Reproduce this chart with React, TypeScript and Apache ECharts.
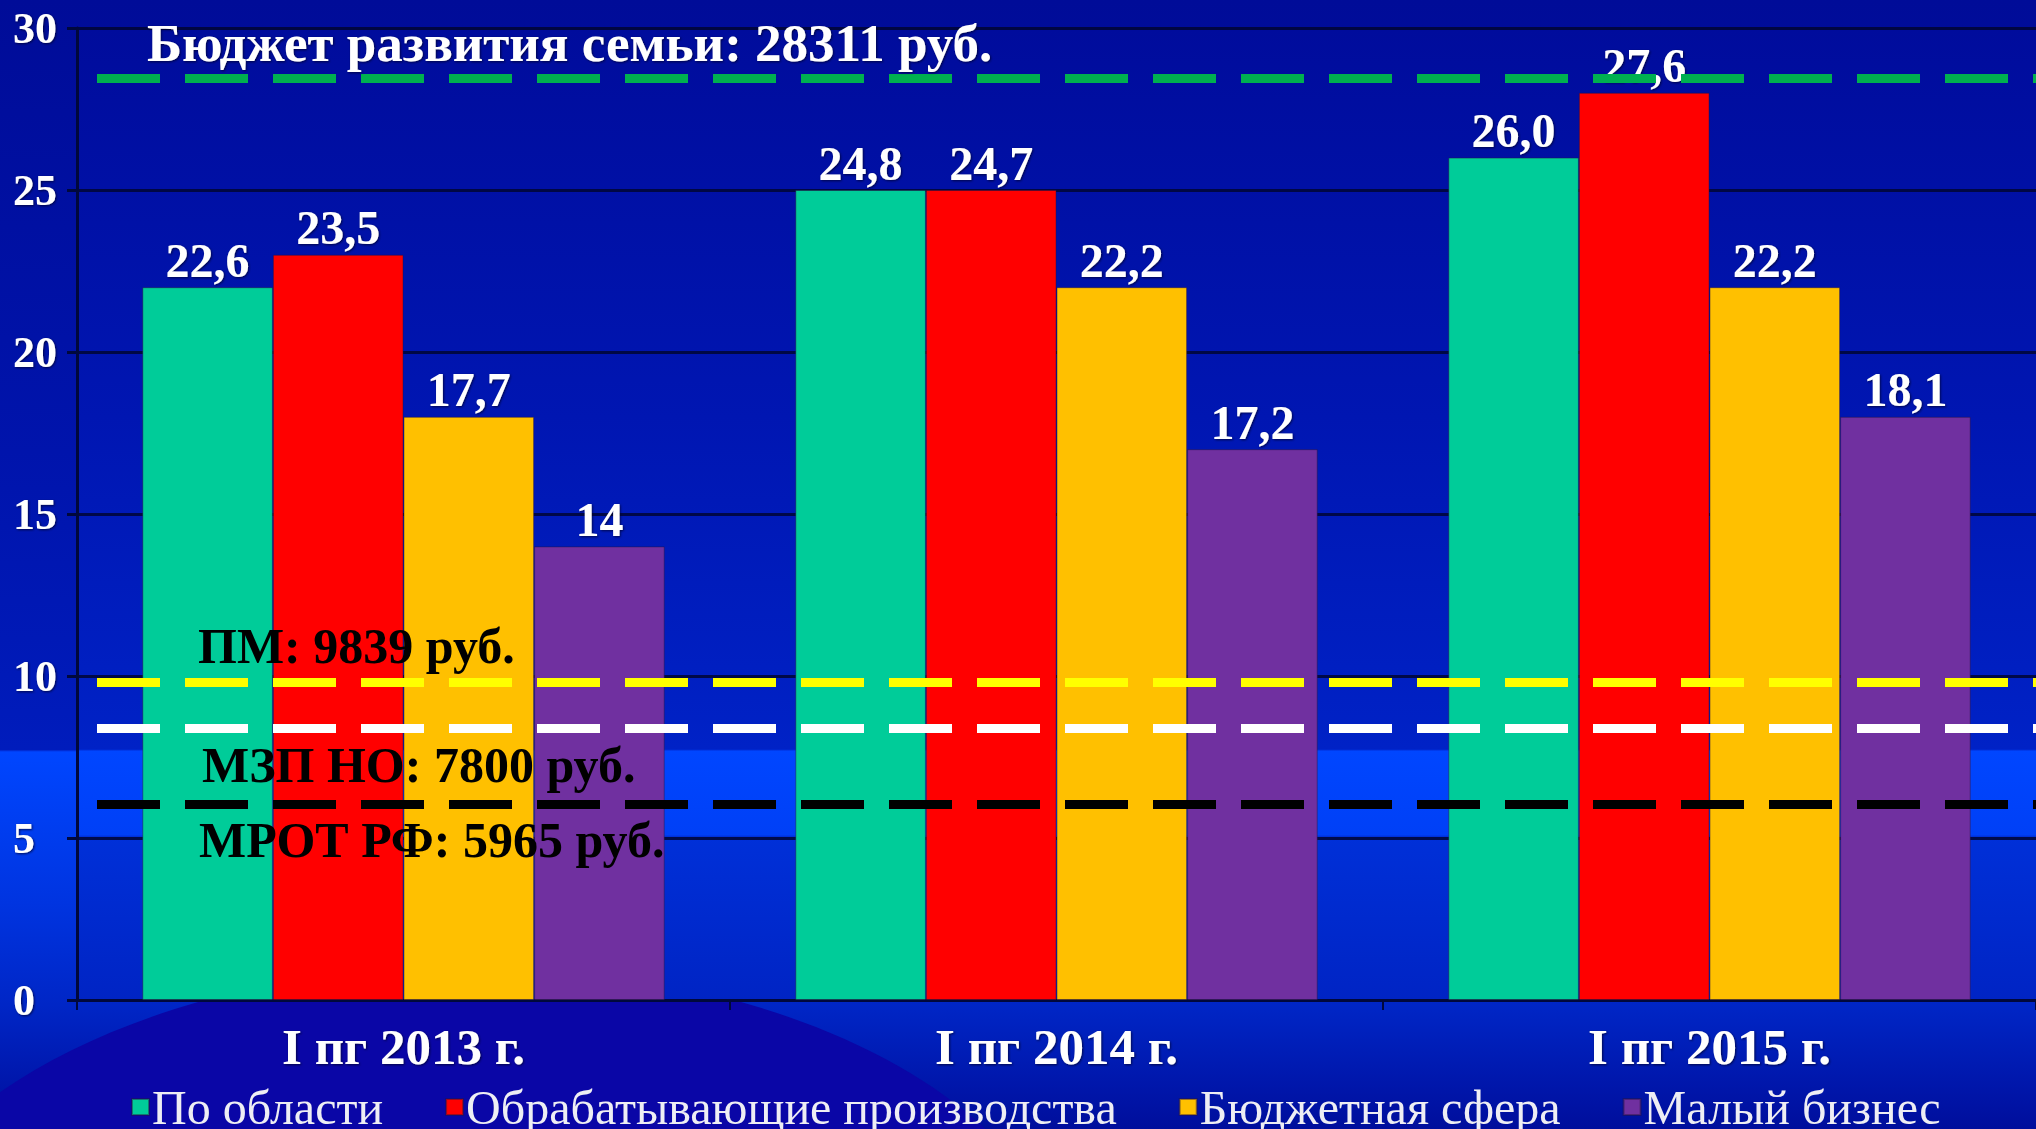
import React, { useEffect, useRef } from 'react';
import * as echarts from 'echarts';

const categories = ['I пг 2013 г.', 'I пг 2014 г.', 'I пг 2015 г.'];
const seriesNames = ['По области', 'Обрабатывающие производства', 'Бюджетная сфера', 'Малый бизнес'];

// bar heights as drawn in the picture
const regionValues = [22, 25, 26];
const manufacturingValues = [23, 25, 28];
const publicSectorValues = [18, 22, 22];
const smallBusinessValues = [14, 17, 18];

// value labels as printed above the bars
const regionLabels = ['22,6', '24,8', '26,0'];
const manufacturingLabels = ['23,5', '24,7', '27,6'];
const publicSectorLabels = ['17,7', '22,2', '22,2'];
const smallBusinessLabels = ['14', '17,2', '18,1'];

// y axis
const yMin = 0;
const yMax = 30;
const yInterval = 5;

// reference levels (thousand rubles)
const familyBudgetLevel = 28.45;
const subsistenceLevel = 9.8;
const regionalWageLevel = 8.4;
const federalWageLevel = 6.05;

const familyBudgetText = 'Бюджет развития семьи: 28311 руб.';
const subsistenceText = 'ПМ: 9839 руб.';
const regionalWageText = 'МЗП НО: 7800 руб.';
const federalWageText = 'МРОТ РФ: 5965 руб.';

const colors = ['#00CC99', '#FF0000', '#FFC000', '#7030A0'];

export default function App() {
  const ref = useRef<HTMLDivElement>(null);
  useEffect(() => {
    if (!ref.current) return;
    const chart = echarts.init(ref.current, null, { renderer: 'svg' });
    const FONT = '"Liberation Serif", "Times New Roman", serif';
    const shadow = {
      textShadowColor: 'rgba(0,0,40,0.75)',
      textShadowBlur: 2,
      textShadowOffsetX: 1,
      textShadowOffsetY: 1,
    };
    const G = { left: 77, top: 28, width: 1966, height: 972 };

    const mkBar = (name: string, values: number[], labels: string[], color: string, extra: any = {}) => ({
      type: 'bar',
      name,
      data: values,
      barGap: '0%',
      barCategoryGap: '20%',
      itemStyle: { color, borderColor: 'rgba(40,20,60,0.45)', borderWidth: 1 },
      label: {
        show: true,
        position: 'top',
        distance: 3,
        formatter: (p: any) => labels[p.dataIndex],
        color: '#ffffff',
        fontFamily: FONT,
        fontWeight: 'bold',
        fontSize: 48,
        ...shadow,
      },
      emphasis: { disabled: true },
      ...extra,
    });

    const lineLabel = (text: string, position: string, dist: number[], size: number, color: string, sh = false) => ({
      show: true,
      formatter: text,
      position,
      distance: dist,
      fontFamily: FONT,
      fontWeight: 'bold',
      fontSize: size,
      color,
      ...(sh ? shadow : {}),
    });

    const dash = { width: 9, type: [63, 25], dashOffset: 68 };

    const option: any = {
      animation: false,
      graphic: [
        {
          type: 'rect',
          z: -100,
          silent: true,
          shape: { x: 0, y: 0, width: 2036, height: 1129 },
          style: {
            fill: new echarts.graphic.LinearGradient(0, 0, 0, 1, [
              { offset: 0, color: '#000C98' },
              { offset: 0.4, color: '#0014AC' },
              { offset: 0.664, color: '#001CBC' },
              { offset: 0.666, color: '#0046FF' },
              { offset: 0.8, color: '#0034E0' },
              { offset: 0.89, color: '#0026C6' },
              { offset: 1, color: '#000E9C' },
            ]),
          },
        },
        {
          type: 'ellipse',
          z: -99,
          silent: true,
          shape: { cx: 470, cy: 1300, rx: 600, ry: 334 },
          style: { fill: '#0A06A6' },
        },
        {
          type: 'rect',
          z: -98,
          silent: true,
          shape: { x: G.left, y: G.top, width: G.width, height: G.height },
          style: {
            fill: new echarts.graphic.LinearGradient(0, 0, 0, 1, [
              { offset: 0, color: '#000C9C' },
              { offset: 0.4, color: '#0016B2' },
              { offset: 0.742, color: '#0022C6' },
              { offset: 0.744, color: '#0046FF' },
              { offset: 0.83, color: '#0040F6' },
              { offset: 0.832, color: '#0030D8' },
              { offset: 1, color: '#0024C4' },
            ]),
          },
        },
      ],
      grid: { ...G, containLabel: false },
      legend: {
        left: 126,
        top: 1078,
        width: 1950,
        itemWidth: 17,
        itemHeight: 16,
        itemGap: 62,
        icon: 'rect',
        data: seriesNames,
        textStyle: {
          fontFamily: FONT,
          fontSize: 48,
          color: '#EEEEF4',
          padding: [0, 0, 0, -2],
        },
      },
      xAxis: {
        type: 'category',
        data: categories,
        axisLine: { show: true, lineStyle: { color: '#00083C', width: 3 } },
        axisTick: { show: true, length: 10, lineStyle: { color: '#00083C', width: 2 } },
        axisLabel: {
          margin: 21,
          color: '#ffffff',
          fontFamily: FONT,
          fontWeight: 'bold',
          fontSize: 51,
          ...shadow,
        },
        splitLine: { show: false },
      },
      yAxis: {
        type: 'value',
        min: yMin,
        max: yMax,
        interval: yInterval,
        axisLine: { show: true, lineStyle: { color: '#00083C', width: 3 } },
        axisTick: { show: true, length: 10, lineStyle: { color: '#00083C', width: 3 } },
        axisLabel: {
          align: 'left',
          margin: 64,
          color: '#ffffff',
          fontFamily: FONT,
          fontWeight: 'bold',
          fontSize: 44,
          ...shadow,
        },
        splitLine: { show: true, lineStyle: { color: 'rgba(0,6,50,0.85)', width: 3 } },
      },
      series: [
        mkBar(seriesNames[0], regionValues, regionLabels, colors[0]),
        mkBar(seriesNames[1], manufacturingValues, manufacturingLabels, colors[1]),
        mkBar(seriesNames[2], publicSectorValues, publicSectorLabels, colors[2]),
        mkBar(seriesNames[3], smallBusinessValues, smallBusinessLabels, colors[3], {
          markLine: {
            silent: true,
            symbol: ['none', 'none'],
            emphasis: { disabled: true },
            lineStyle: dash,
            data: [
              {
                yAxis: familyBudgetLevel,
                lineStyle: { ...dash, color: '#00B050' },
                label: lineLabel(familyBudgetText, 'insideStartTop', [70, 9], 53, '#ffffff', true),
              },
              {
                yAxis: subsistenceLevel,
                lineStyle: { ...dash, color: '#FFFF00' },
                label: lineLabel(subsistenceText, 'insideStartTop', [121, 11], 50, '#000000'),
              },
              {
                yAxis: regionalWageLevel,
                lineStyle: { ...dash, color: '#FFFFFF' },
                label: lineLabel(regionalWageText, 'insideStartBottom', [125, 12], 50, '#000000'),
              },
              {
                yAxis: federalWageLevel,
                lineStyle: { ...dash, color: '#000000' },
                label: lineLabel(federalWageText, 'insideStartBottom', [122, 11], 50, '#000000'),
              },
            ],
          },
        }),
      ],
    };
    chart.setOption(option);
    return () => chart.dispose();
  }, []);
  return (
    <div
      ref={ref}
      style={{ position: 'fixed', left: 0, top: 0, width: 2036, height: 1129 }}
    />
  );
}
